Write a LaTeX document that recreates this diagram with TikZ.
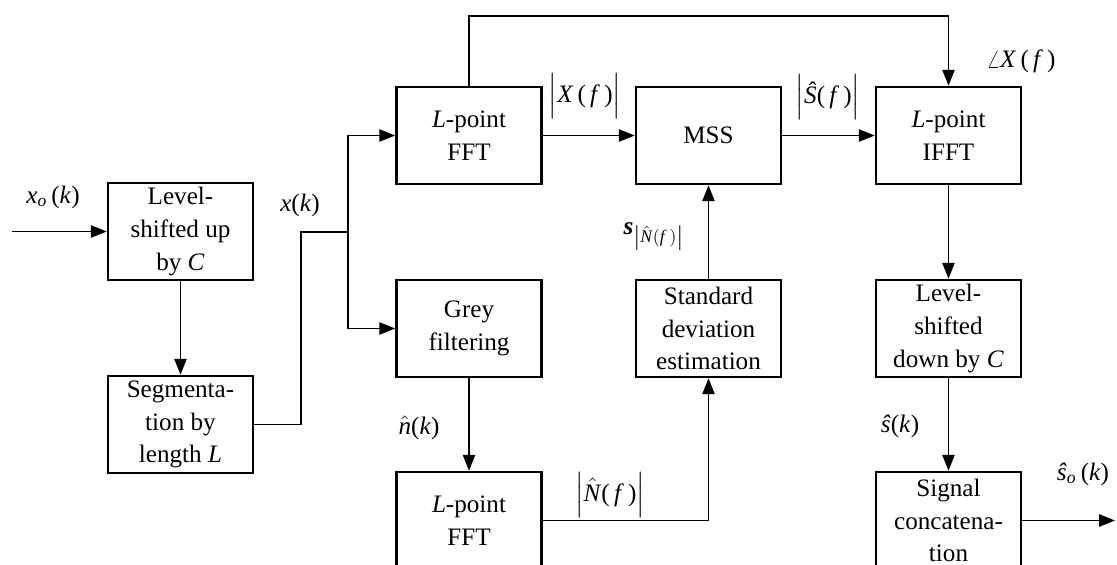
\documentclass[tikz,border=0pt]{standalone}
\usepackage{amsmath}
\usepackage{fontspec}
\setmainfont{Liberation Serif}
\usetikzlibrary{arrows.meta,positioning,calc}
\newcommand{\hatv}[1]{$\hat{\text{\textit{#1}}}$}

\begin{document}
\begin{tikzpicture}
[>={Triangle[length=9pt,width=7pt]}, line width=0.75pt,
blk/.style={draw,line width=1.5pt,minimum width=2.9cm,minimum height=1.94cm,
  align=center,inner sep=1pt,font=\fontsize{14.3}{18.6}\selectfont},
lbl/.style={inner sep=1pt,font=\fontsize{14.3}{18.6}\selectfont}]
\useasboundingbox (0,0) rectangle (22.34,-11.3);

\node (up) at (3.61,-4.63) [blk] {Level-\\shifted up\\by \textit{C}};
\node (seg) at (3.61,-8.49) [blk] {Segmenta-\\tion by\\length \textit{L}};
\node (fft1) at (9.38,-2.71) [blk] {\textit{L}-point\\FFT};
\node (grey) at (9.38,-6.57) [blk] {Grey\\filtering};
\node (fft2) at (9.38,-10.41) [blk] {\textit{L}-point\\FFT};
\node (mss) at (14.17,-2.71) [blk] {MSS};
\node (std) at (14.17,-6.57) [blk] {Standard\\deviation\\estimation};
\node (ifft) at (18.97,-2.71) [blk] {\textit{L}-point\\IFFT};
\node (down) at (18.97,-6.57) [blk] {Level-\\shifted\\down by \textit{C}};
\node (cat) at (18.97,-10.41) [blk] {Signal\\concatena-\\tion};

\coordinate (in) at (0.24,-4.63);
\coordinate (out) at (22.3,-10.41);
\coordinate (kink) at (6.02,-4.64);
\coordinate (br) at (6.96,-4.64);
\coordinate (top) at (9.38,-0.32);

\draw[->] (in) -- (up);
\draw[->] (up) -- (seg);
\draw (seg) -| (kink) -- (br);
\draw[->] (br) |- (fft1);
\draw[->] (br) |- (grey);
\draw[->] (fft1) -- (mss);
\draw[->] (mss) -- (ifft);
\draw[->] (fft1) -- (top) -| (ifft);
\draw[->] (grey) -- (fft2);
\draw[->] (fft2) -| (std);
\draw[->] (std) -- (mss);
\draw[->] (ifft) -- (down);
\draw[->] (down) -- (cat);
\draw[->] (cat) -- (out);

\node (xo) at (1.06,-3.94) [lbl] {\textit{x}$_{\textit{o}}$\,(\textit{k})};
\node (xk) at (6.0,-4.1) [lbl] {\textit{x}(\textit{k})};
\node (magX) at (11.7,-1.92) [lbl] {$\Bigl|\text{\textit{X}\,(\,\textit{f}\,)}\Bigr|$};
\node (magS) at (16.56,-1.94) [lbl] {$\Bigl|\text{\textit{\^S}(\,\textit{f}\,)}\Bigr|$};
\node (argX) at (20.42,-1.22) [lbl] {$\angle$\textit{X}\,(\,\textit{f}\,)};
\node (sig) at (13.08,-4.74) [lbl] {\textbf{\textit{s}}$_{\left|\hat{\text{\textit{N}}}(\text{\textit{f}}\,)\right|}$};
\node (nk) at (8.38,-8.56) [lbl] {\hatv{n}(\textit{k})};
\node (magN) at (12.2,-9.9) [lbl] {$\Bigl|\hat{\text{\textit{N}}}\text{(\,\textit{f}\,)}\Bigr|$};
\node (sk) at (18.0,-8.52) [lbl] {\textit{\^s}(\textit{k})};
\node (so) at (21.66,-9.48) [lbl] {\textit{\^s}$_{\textit{o}}$\,(\textit{k})};
\end{tikzpicture}
\end{document}
